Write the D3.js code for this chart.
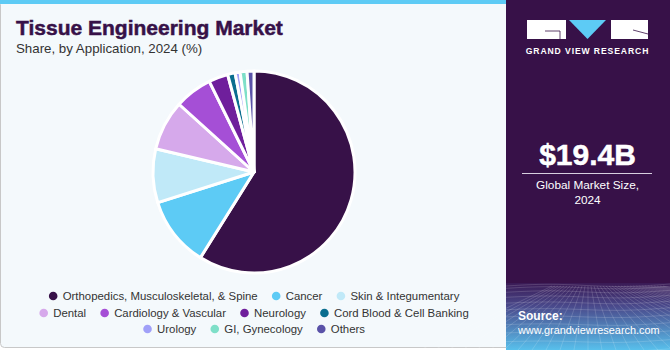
<!DOCTYPE html>
<html>
<head>
<meta charset="utf-8">
<script src="https://cdn.jsdelivr.net/npm/d3@7"></script>
<style>
  html, body { margin: 0; padding: 0; background: #ffffff; }
  svg { display: block; }
</style>
</head>
<body>
<svg id="chart" width="670" height="350"></svg>
<script>
// ---- data ----
const categories = [
  "Orthopedics, Musculoskeletal, & Spine",
  "Cancer",
  "Skin & Integumentary",
  "Dental",
  "Cardiology & Vascular",
  "Neurology",
  "Cord Blood & Cell Banking",
  "Urology",
  "GI, Gynecology",
  "Others"
];
const shares = [58.9, 11.2, 8.6, 8.0, 6.0, 3.1, 1.2, 0.8, 1.1, 1.1];
const colors = ["#371148", "#5dcbf5", "#c0e9f8", "#d6a9eb", "#a54fd6", "#6f1f9c", "#0a6e8f", "#a0a0f8", "#7edfc8", "#5a52a8"];
const legendRows = [[0, 1, 2], [3, 4, 5, 6], [7, 8, 9]];
const title = "Tissue Engineering Market";
const subtitle = "Share, by Application, 2024 (%)";
const marketValue = "$19.4B";
const marketLabel = ["Global Market Size,", "2024"];

const svg = d3.select("#chart");
const defs = svg.append("defs");
const FONT = "Liberation Sans, Arial, sans-serif";

// ---- left card ----
svg.append("rect").attr("x", 0.5).attr("y", 0.5).attr("width", 520).attr("height", 347)
  .attr("rx", 4).attr("fill", "#f4f9fc").attr("stroke", "#c8c8c8");
svg.append("rect").attr("x", 0).attr("y", 0).attr("width", 506).attr("height", 4).attr("fill", "#5dcbf5");

svg.append("text").attr("x", 16).attr("y", 35).text(title)
  .attr("font-family", FONT).attr("font-weight", "bold")
  .attr("font-size", 21).attr("fill", "#371148")
  .attr("stroke", "#371148").attr("stroke-width", 0.5);
svg.append("text").attr("x", 16).attr("y", 53).text(subtitle)
  .attr("font-family", FONT)
  .attr("font-size", 13.3).attr("fill", "#333");

// ---- pie ----
const cx = 254, cy = 172, r = 101;
const pie = d3.pie().sort(null).value(d => d)(shares);
const arc = d3.arc().innerRadius(0).outerRadius(r);
svg.append("g").attr("transform", `translate(${cx},${cy})`)
  .selectAll("path").data(pie).join("path")
  .attr("d", arc).attr("fill", (d, i) => colors[i])
  .attr("stroke", "#ffffff").attr("stroke-width", 3).attr("stroke-linejoin", "round");

// ---- legend ----
const rowY = [300, 317, 333];
const lg = svg.append("g");
const GAP = 14;
legendRows.forEach((row, ri) => {
  const g = lg.append("g");
  let x = 0;
  row.forEach(i => {
    g.append("circle").attr("cx", x + 4.5).attr("cy", rowY[ri] - 4).attr("r", 4.3).attr("fill", colors[i]);
    const t = g.append("text").attr("x", x + 14).attr("y", rowY[ri]).text(categories[i])
      .attr("font-family", FONT).attr("font-size", 11.4).attr("fill", "#333");
    x += 14 + t.node().getComputedTextLength() + GAP;
  });
  const w = x - GAP;
  g.attr("transform", `translate(${254 - w / 2},0)`);
});

// ---- right panel ----
const px = 506, pw = 164;
svg.append("rect").attr("x", px).attr("y", 0).attr("width", pw).attr("height", 350).attr("fill", "#371148");
const grad = defs.append("linearGradient").attr("id", "bg").attr("x1", 0).attr("y1", 0).attr("x2", 0).attr("y2", 1);
grad.append("stop").attr("offset", "0%").attr("stop-color", "#3a1a55");
grad.append("stop").attr("offset", "35%").attr("stop-color", "#4a4a8c");
grad.append("stop").attr("offset", "100%").attr("stop-color", "#58c0ec");
svg.append("rect").attr("x", px).attr("y", 283).attr("width", pw).attr("height", 67).attr("fill", "url(#bg)");
// decorative perspective grid
const gridG = svg.append("g").attr("stroke", "#ffffff").attr("stroke-opacity", 0.22).attr("stroke-width", 0.7).attr("fill", "none");
const hz = d3.range(0, 14).map(k => 286 + Math.pow(k, 1.45) * 2.3);
hz.forEach((y, k) => {
  gridG.append("path").attr("d", d3.line().curve(d3.curveBasis)([[px, y], [px + 50, y - 3 + k * 0.2], [px + 110, y + 2], [px + pw, y - 2]]));
});
d3.range(-12, 26).forEach(k => {
  const x0 = px + 82 + k * 3, x1 = px + 82 + k * 14;
  gridG.append("path").attr("d", `M${x0},286L${x1},350`);
});

// logo
const lgo = svg.append("g");
lgo.append("rect").attr("x", 527).attr("y", 20).attr("width", 39).attr("height", 19).attr("fill", "#ffffff");
lgo.append("path").attr("d", "M545,31H560V39").attr("stroke", "#371148").attr("stroke-width", 0.8).attr("fill", "none");
lgo.append("path").attr("d", "M569,20L606,20L587.5,39Z").attr("fill", "#5dcbf5");
lgo.append("rect").attr("x", 611).attr("y", 20).attr("width", 37).attr("height", 19).attr("fill", "#ffffff");
lgo.append("path").attr("d", "M633,30L648,34").attr("stroke", "#371148").attr("stroke-width", 0.8);
svg.append("text").attr("x", 587.5).attr("y", 53.5).attr("text-anchor", "middle").text("GRAND VIEW RESEARCH")
  .attr("font-family", FONT).attr("font-weight", "bold")
  .attr("font-size", 8.6).attr("letter-spacing", 0.9).attr("fill", "#ffffff");

svg.append("text").attr("x", 587.5).attr("y", 165).attr("text-anchor", "middle").text(marketValue)
  .attr("font-family", FONT).attr("font-weight", "bold")
  .attr("font-size", 30).attr("fill", "#ffffff")
  .attr("stroke", "#ffffff").attr("stroke-width", 0.5);
svg.append("line").attr("x1", 522).attr("x2", 652).attr("y1", 173.5).attr("y2", 173.5)
  .attr("stroke", "#d8cfe0").attr("stroke-width", 1);
marketLabel.forEach((s, i) => {
  svg.append("text").attr("x", 587.5).attr("y", 189 + i * 15).attr("text-anchor", "middle").text(s)
    .attr("font-family", FONT).attr("font-size", 11.8).attr("fill", "#ffffff");
});
svg.append("text").attr("x", 518).attr("y", 320).text("Source:")
  .attr("font-family", FONT).attr("font-weight", "bold")
  .attr("font-size", 12).attr("fill", "#ffffff");
svg.append("text").attr("x", 518).attr("y", 334).text("www.grandviewresearch.com")
  .attr("font-family", FONT)
  .attr("font-size", 10.9).attr("fill", "#ffffff");
</script>
</body>
</html>
